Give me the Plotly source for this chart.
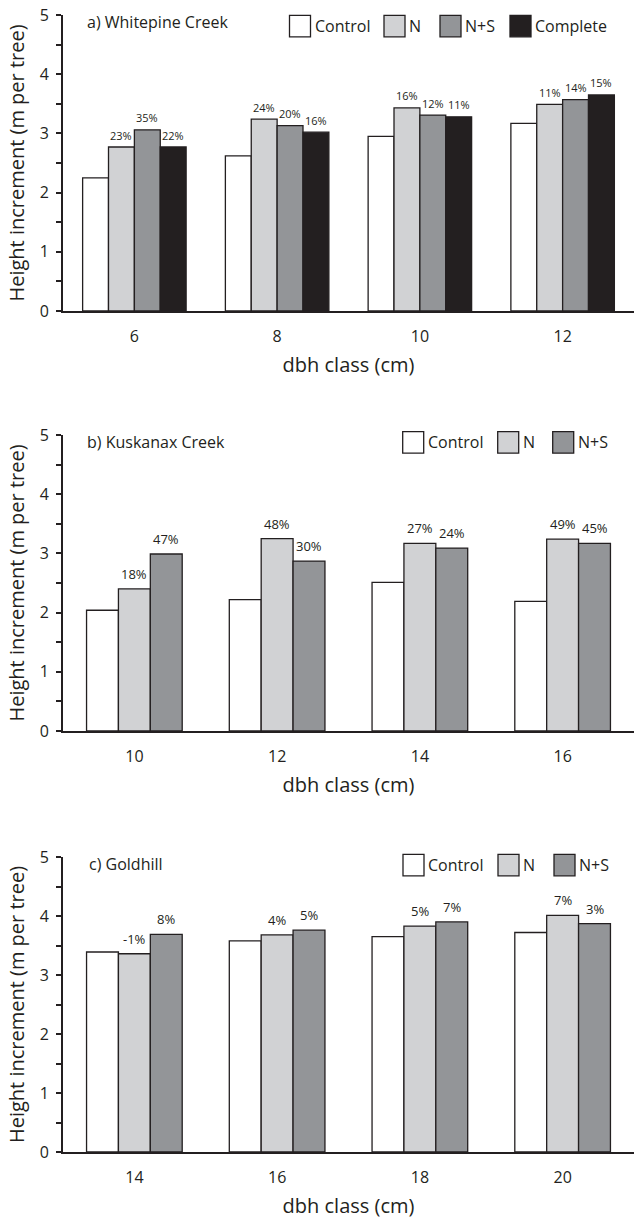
import plotly.graph_objects as go

# dbh classes (cm) for each site
dbh_a = ["6", "8", "10", "12"]
dbh_b = ["10", "12", "14", "16"]
dbh_c = ["14", "16", "18", "20"]

# Height increment (m per tree) by treatment
a_control = [2.25, 2.62, 2.95, 3.17]
a_n = [2.77, 3.24, 3.43, 3.49]
a_ns = [3.06, 3.13, 3.31, 3.57]
a_complete = [2.77, 3.02, 3.28, 3.65]

b_control = [2.04, 2.22, 2.51, 2.19]
b_n = [2.40, 3.25, 3.17, 3.24]
b_ns = [2.99, 2.87, 3.09, 3.17]

c_control = [3.39, 3.58, 3.65, 3.72]
c_n = [3.36, 3.68, 3.83, 4.01]
c_ns = [3.69, 3.76, 3.90, 3.87]

# Percent increase over the control
a_n_pct = [23, 24, 16, 11]
a_ns_pct = [35, 20, 12, 14]
a_complete_pct = [22, 16, 11, 15]
b_n_pct = [18, 48, 27, 49]
b_ns_pct = [47, 30, 24, 45]
c_n_pct = [-1, 4, 5, 7]
c_ns_pct = [8, 5, 7, 3]

site_titles = ["a) Whitepine Creek", "b) Kuskanax Creek", "c) Goldhill"]
treatments = ["Control", "N", "N+S", "Complete"]

W, H = 634, 1219
ML, MR, MT, MB = 63, 0, 15, 67
FONT = "Open Sans"
INK = "#231f20"
fills = {"Control": "#ffffff", "N": "#d1d2d4", "N+S": "#939598", "Complete": "#231f20"}

panels = [
    dict(cats=dbh_a,
         series=[("Control", a_control, None), ("N", a_n, a_n_pct),
                 ("N+S", a_ns, a_ns_pct), ("Complete", a_complete, a_complete_pct)],
         top=15, bottom=311, group=0.725, pct_font=11, pct_shift=12,
         legend_top=15.3, legend_x=[289.5, 384, 440, 510]),
    dict(cats=dbh_b,
         series=[("Control", b_control, None), ("N", b_n, b_n_pct), ("N+S", b_ns, b_ns_pct)],
         top=435, bottom=731, group=0.67, pct_font=13, pct_shift=15,
         legend_top=431.7, legend_x=[402.7, 497.7, 552.7]),
    dict(cats=dbh_c,
         series=[("Control", c_control, None), ("N", c_n, c_n_pct), ("N+S", c_ns, c_ns_pct)],
         top=857, bottom=1152, group=0.67, pct_font=13, pct_shift=15,
         legend_top=854.3, legend_x=[403, 498, 554]),
]

plot_w = W - ML - MR
plot_h = H - MT - MB


def px_x(px):
    return (px - ML) / plot_w


def px_y(py):
    return (H - MB - py) / plot_h


fig = go.Figure()
shapes = []
annotations = []

for k, p in enumerate(panels):
    sfx = "" if k == 0 else str(k + 1)
    xa, ya = "x" + sfx, "y" + sfx
    n = len(p["series"])
    bw = p["group"] / n
    for j, (name, vals, pct) in enumerate(p["series"]):
        off = -p["group"] / 2 + j * bw
        fig.add_trace(go.Bar(
            x=p["cats"], y=vals, name=name, width=bw, offset=off,
            marker=dict(color=fills[name], line=dict(color=INK, width=1.3)),
            xaxis=xa, yaxis=ya, showlegend=False,
        ))
        if pct is not None:
            for i, (v, q) in enumerate(zip(vals, pct)):
                annotations.append(dict(
                    x=i + off + bw / 2, y=v, xref=xa, yref=ya, text=f"{q}%",
                    showarrow=False, yshift=p["pct_shift"], yanchor="middle",
                    font=dict(family=FONT, size=p["pct_font"], color=INK),
                ))

    dom = [px_y(p["bottom"]), min(1.0, px_y(p["top"]))]
    fig.update_layout(**{
        ("xaxis" + sfx): dict(
            domain=[0, 1], anchor=ya, type="category", range=[-0.5, 3.5],
            showline=True, linecolor=INK, linewidth=2, ticks="",
            ticklabelstandoff=10, tickfont=dict(family=FONT, size=16, color=INK),
            title=dict(text="dbh class (cm)", standoff=12,
                       font=dict(family=FONT, size=20, color=INK)),
            showgrid=False, zeroline=False, fixedrange=True,
        ),
        ("yaxis" + sfx): dict(
            domain=dom, anchor=xa, range=[0, 5], tickvals=[0, 1, 2, 3, 4, 5],
            showline=True, linecolor=INK, linewidth=2,
            ticks="outside", ticklen=5, tickwidth=1.5, tickcolor=INK,
            minor=dict(dtick=0.5, ticks="outside", ticklen=5, tickwidth=1.5, tickcolor=INK),
            ticklabelstandoff=4, tickfont=dict(family=FONT, size=16, color=INK),
            title=dict(text="Height increment (m per tree)", standoff=10,
                       font=dict(family=FONT, size=20, color=INK)),
            showgrid=False, zeroline=False, automargin=False, fixedrange=True,
        ),
    })

    # site label
    annotations.append(dict(
        x=px_x(85 if k < 2 else 87), y=px_y(p["top"] + 7), xref="paper", yref="paper",
        text=site_titles[k], showarrow=False, xanchor="left", yanchor="middle",
        font=dict(family=FONT, size=16, color=INK),
    ))

    # legend boxes
    sw, sh = 21, 21.5
    for (name, _, _), lx in zip(p["series"], p["legend_x"]):
        t = p["legend_top"]
        shapes.append(dict(
            type="rect", xref="paper", yref="paper",
            x0=px_x(lx), x1=px_x(lx + sw), y0=px_y(t + sh), y1=px_y(t),
            fillcolor=fills[name], line=dict(color=INK, width=1.3),
        ))
        annotations.append(dict(
            x=px_x(lx + sw + 2), y=px_y(t + sh / 2), xref="paper", yref="paper",
            text=name, showarrow=False, xanchor="left", yanchor="middle",
            font=dict(family=FONT, size=16, color=INK),
        ))

fig.update_layout(
    width=W, height=H,
    margin=dict(l=ML, r=MR, t=MT, b=MB),
    paper_bgcolor="white", plot_bgcolor="white",
    barmode="overlay", showlegend=False,
    shapes=shapes, annotations=annotations,
    font=dict(family=FONT, color=INK),
)

fig.write_html("out.html", config=dict(displayModeBar=False))
